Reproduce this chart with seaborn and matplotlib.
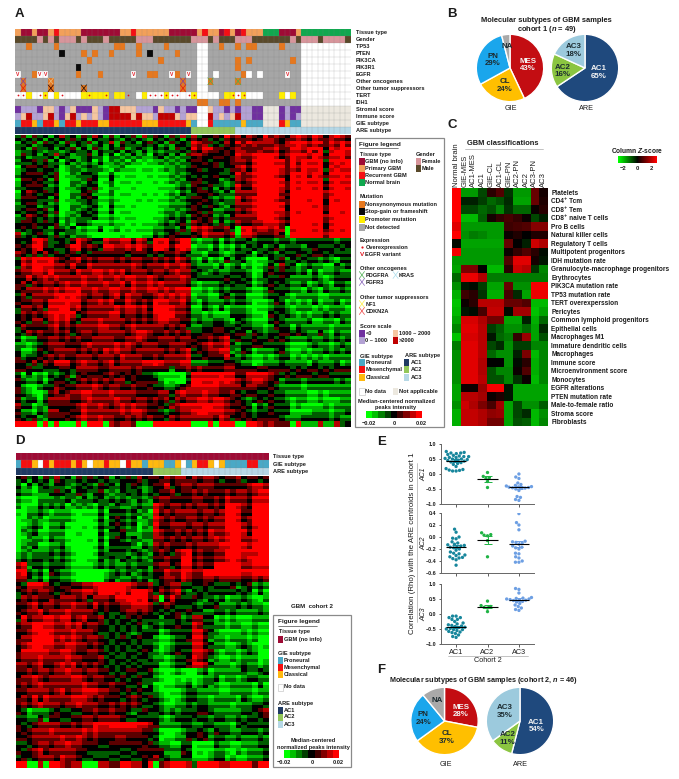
import numpy as np
import pandas as pd
import matplotlib
matplotlib.use("Agg")
import matplotlib.pyplot as plt
from matplotlib.colors import ListedColormap, LinearSegmentedColormap
from matplotlib.patches import Rectangle
import seaborn as sns

W = 679
H = 779

# panel A annotation tracks, one character per sample
A_TRACK_NAMES = ["Tissue type", "Gender", "TP53", "PTEN", "PIK3CA", "PIK3R1", "EGFR", "Other oncogenes",
                 "Other tumor suppressors", "TERT", "IDH1", "Stromal score", "Immune score", "GIE subtype", "ARE subtype"]
A_TISSUE = "PGGPGGPRPPPPGGGGGGGPPRPPPPPPGGGGGPRPPGRPGRPPPNNNGGGPNNNNNNNNN"
A_GENDER = "MMMMFMFMFFFMFMMMFMMMMMFFFMMMMMMMFFFMFMMMFFFMMMMMMMFMFFFMFFFFM"
A_TERT = "wwywwywywwwwyyyyy" ".yy..wyw" "wwywwwwywwww" ".yy" "wy" "www" "..." "ywy." "wwwwwwwww"
A_STROMAL = "abbbaeebabeaaaebaddeeebbbaebbabaa" "wwebbababbaannn" "abaa" "nnnnnnnnn"
A_IMMUNE = "bedbbedbaedbebeba" "dddd" "ed" "ee" "b" "ddd" "e" "b" "ee" "ww" "dbebed" "bb" "aa" "nnn" "abab" "nnnnnnnnn"
A_GIE = "pmmlpmmlpmmlmmmll" "mmmmmm" "lll" "mmmmm" "l" "p" "ww" "m" "ppppp" "l" "ppp" "nnn" "mlpp" "nnnnnnnnn"
A_ARE = "1" * 32 + "2" * 8 + "3" * 21

# mutated samples per gene, column numbers
A_NO_DATA = [33, 34, 52, 53, 54, 55, 56, 57, 58, 59, 60]
A_TP53_NONSYN = [2, 7, 18, 19, 22, 27, 37, 40, 42, 43, 48]
A_PTEN_NONSYN = [12, 14, 17, 22, 29]
A_PTEN_STOP = [8, 24]
A_PIK3CA_NONSYN = [13, 26, 40, 42, 50]
A_PIK3R1_NONSYN = [40]
A_PIK3R1_STOP = [11]
A_EGFR_NONSYN = [3, 11, 15, 24, 25, 29, 41]
A_EGFR_V = [0, 4, 5, 21, 28, 31, 49]
A_EGFR_BLANK = [36, 42, 44]
A_ONCO_CROSS = [1, 6, 30, 35, 40]
A_SUPP_CROSS = [1, 6, 12, 30]
A_IDH1_NONSYN = [33, 34, 37, 38, 40]
A_TERT_OVER = [0, 1, 4, 5, 8, 13, 16, 20, 24, 25, 26, 27, 28, 29, 31, 32, 39, 40, 41]

# main heatmap of panel A, levels 0 (green) .. 4 (black) .. 8 (red), groups AC1 | AC2 | AC3
A_HEAT = """
35253424 63425364 25243526 35425363 63445475 64654756 54676576 46765
24352534 25343524 36253424 53425343 76553464 75766665 46787677 57686
34253342 43524253 24352343 24342534 75775545 65555667 55786878 47687
25342436 34233524 24132423 14342425 66544454 76678887 56877687 48786
24453524 13423413 13231312 12232324 55434445 66578888 75868778 37878
14554534 02323432 12231101 11122323 54445344 67578888 75768778 47687
24555435 01324431 13101100 10112323 44444334 75678887 65878687 47787
15545425 00223541 14011010 01012324 45444234 65678888 74878778 37877
24555423 01323441 03100100 00111232 54453323 75578888 75878878 57887
14654534 00224531 13011001 01012132 45543242 66668888 64888888 67888
25554424 01324541 12100010 10112323 55432322 75678887 64888788 58788
24553423 00223431 03110100 00112223 45443233 66678888 75888878 48888
34554524 01323431 13011000 00122323 54442233 65678887 74878888 58878
24654523 12324431 12101100 01123232 54542324 66668887 65888888 67888
35543534 13233211 12110101 11232342 65452423 65566777 65888878 57888
45453425 32412113 01201011 12233242 76765564 07867767 50788878 47878
62345324 23322100 00010001 13234533 45766656 17765556 41888888 68888
44478634 43586544 76677576 48785688 21223132 33423332 33233333 33233
54578534 45785654 77667686 58875787 12213121 32434234 23332443 33434
65464645 34534355 55554555 45455654 22133212 33413432 43344344 34333
37687786 54675656 66565665 56565765 21312142 43101143 52434332 32133
47688776 65755766 66666765 66676676 32221312 31201242 63412322 11423
56677686 66576677 67675666 56656766 34323223 33201343 53323131 22322
55756767 66667667 66767766 76566676 43333343 34312433 54222232 12333
46465665 67667666 76675766 76766665 21222343 44312343 43223123 21332
54666767 67786676 67766766 77676777 11212323 33211243 33221321 32232
36466667 87876566 56757665 56767676 12211342 33111233 42122221 12222
45566577 78775667 67557656 58776675 21322232 33201124 31212131 22312
46656477 88675666 66767767 58887665 11321312 22101123 32122212 12221
36565678 78745666 67756656 57888665 22121113 33211043 43212122 32322
45466467 67546667 66665656 56776655 23223321 43211134 32222311 22132
46555567 56566667 76656766 66656564 22334433 43322124 33132222 21222
34656556 56456656 66665677 65565656 33445543 44243233 44343224 21322
31225566 56565566 66556676 55666566 45565674 43343343 43222322 32323
22123566 65556766 66767656 66556665 45676674 23344333 32111232 21232
31125456 66656565 76766566 66656567 34566773 24312223 42112122 32323
42334565 65566656 66576665 56566667 33455574 23211212 33121212 12222
55464657 77567665 67566667 78766677 22233344 32201222 32222132 22312
44533444 55466665 56666565 55553556 56555566 44445544 44343443 43444
31412132 34345444 56545453 32111103 77777877 55777765 34344434 43333
53223134 43456565 65664544 44201003 88778787 65677654 23332333 33232
42102335 45566676 56655655 43322345 77777666 64665543 22221222 22222
53210256 45667766 67666655 55664676 66766556 43443343 32222112 12222
52331366 66556766 66766566 56564656 67767765 43234343 32122112 11122
63312355 55567667 65676766 55435677 77887765 54313243 33121111 21222
42213266 44557666 66676776 55323566 78877766 54323343 33111122 21223
43442355 54567667 66556565 65546566 66665764 45434444 32223333 32322
77770708 00070778 06566500 07777877 00070777 00776565 55172226 22634
"""
# the thin rows that sit between the rows above
A_HEAT_THIN = """
43434243 43534243 34324343 24343424 54534354 55545665 45565465 56554
33423443 34243234 24243334 34232443 65634354 56565556 56676565 56575
23343233 23433424 33424324 23233343 54655454 66556556 45665757 36776
34233342 43223433 13323232 23423233 45445545 65567776 45766576 56675
33343433 24232324 22323221 22323233 44545345 55467776 65757667 46767
23443443 12332333 21322212 21232334 45344435 56467777 65657667 36766
34444345 12233342 24212211 21223234 34345443 65567776 54767576 56676
24454334 11332431 23122121 12123233 55344323 54567777 65767667 46766
33444334 12234352 12211211 11222343 45342434 64467777 65767767 46776
24543445 11335422 23122112 12123243 34454333 55557777 55777777 56777
34443335 12233432 23211121 21223234 44543433 64567776 55777677 47677
33442334 11332342 14221211 11223334 54354324 55567777 64777767 57777
43443435 12234342 24122111 11233234 45353344 54567776 65767777 47767
33543434 23233342 23212211 12234343 45453435 55557776 54777777 56777
44454445 23144322 23221212 22343453 54543534 54455666 54777767 46777
34344334 43323224 12312122 23344353 65654453 16756656 61677767 56767
53434435 34233211 11121112 24345444 54655545 26654445 52777777 57777
43467533 43475433 65566465 37674577 32334243 44334443 44344444 44344
45467443 34674543 66556575 47764676 23324232 43343345 34443354 44343
54353534 45445444 44443444 34344543 33244323 44324343 34453455 43444
46576675 45564545 55454554 45454654 32423253 34212234 43343443 43244
36577665 54644655 55555654 55565565 43332423 42312353 54323433 22334
45566575 55465566 56564555 45545655 43234334 44312454 44434242 33433
44645656 55556556 55656655 65455565 34444454 43423344 43333343 23444
55354554 56556555 65564655 65655554 32333434 33423454 34334234 32443
45555656 56675565 56655655 66565666 22323434 44322354 44332432 43343
45355556 76765455 45646554 45656565 23322453 44222344 33233332 23333
54455466 67664556 56446545 47665564 32433343 44312235 42323242 33423
35545366 77564555 55656656 47776554 22432423 33212234 43233323 23332
45454567 67634555 56645545 46777554 33232224 44322154 34323233 43433
54355356 56435556 55554545 45665544 34334432 34322245 43333422 33243
35444456 45455556 65545655 55545453 33445544 34433235 44243333 32333
43545445 45345545 55554566 54454545 44554454 55354344 55454335 32433
42334455 45454455 55445565 44555455 54454563 54454454 54333433 43434
33234455 54445655 55656545 55445554 54565563 34455444 43222343 32343
42234345 55545454 65655455 55545456 45455662 35423334 53223233 43434
53445454 54455545 55465554 45455556 44544463 34322323 44232323 23333
44353546 66456554 56455556 67655566 33344455 43312333 43333243 33423
55444333 44355554 45555454 44442445 45444455 55554455 55454554 54555
42323243 45254555 45454544 43222214 66666766 44666654 45455545 54444
44334245 54345454 54553455 55312114 77667676 54566545 34443444 44343
53213446 54455565 45544544 54433456 66666555 55554454 33332333 33333
44321345 56556655 56555544 44553565 55655445 54554454 43333223 23333
43442455 55445655 55655455 45453545 56656654 54345454 43233223 22233
54423244 44456556 54565655 44546566 66776654 45424354 44232222 32333
53324355 55446555 55565665 44434455 67766655 45434454 44222233 32334
54353244 45456556 55445454 54435455 55554653 54545555 43334444 43433
77770708 00070778 06566500 07777877 00070777 00776565 55172226 22634
"""

# panel D tracks and heatmap, AC1 | AC2 | AC3
D_TRACK_NAMES = ["Tissue type", "GIE subtype", "ARE subtype"]
D_TISSUE = "G" * 46
D_GIE = "pmmlwmlmmmlmlwllmllwmllplllpplwplmmlwlppppmmpp"
D_ARE = "1" * 25 + "2" * 5 + "3" * 16
D_HEAT = """
45342536 34253534 52435364 5 54656 64656654 55645545
31424324 43234325 34243543 4 55745 66566655 55556776
32213335 34244335 23243342 3 45564 55656555 65665677
21102223 23324234 23232332 3 56655 55665565 76665777
20113232 31323213 32433232 2 76566 56566565 88765888
10223212 22101113 14443423 1 75656 66656656 88755888
01323122 22100013 14543413 2 76565 56656566 88756888
01232022 31001013 24543402 3 75566 65665666 88865788
03231122 20010003 14453312 2 76556 56565766 78875888
01322132 21000103 13543423 3 66565 65665676 78866788
02331122 31000013 14444313 2 65655 56566667 78876888
12322232 32100013 24443432 3 56546 78565566 88877788
23233332 32100113 34334232 3 55655 88565566 78767888
67333233 32111123 23223233 3 56645 77565588 88866777
78323143 22100000 12323323 2 55766 87668888 88877888
66423133 22100000 23322323 3 45665 76556656 66655656
43777643 44556678 88887655 6 34566 33445433 34345232
45656654 45667768 88786888 6 46567 32434333 33434131
36565554 66656466 65778878 5 60575 33543323 12232102
55675665 66766575 65566777 6 35654 44323342 22323221
45667566 67666654 54456656 5 43434 45442233 23222232
47566776 77567556 43435454 4 42445 23664412 12111222
56688776 67675665 34343453 4 32334 33764422 12211211
55678876 66766654 43434343 3 31233 33775421 11121211
46688886 76765665 34353454 4 21123 34775322 12221200
56788776 67766565 43434343 3 20123 33775422 11232101
47777766 77655665 34343345 4 21234 33776521 22123200
56667666 67665556 34334344 3 22123 34765321 12122201
66567556 76756565 43434343 3 31123 34776422 21232212
55656656 67665665 54345544 5 21012 10023122 22243343
46676566 66776566 55454354 4 21001 01012231 22123322
56567666 66667665 56554453 3 10112 23123321 12222131
55666656 75667776 65545454 4 21011 23322221 12222122
46575766 66777656 55545654 5 32101 23322122 22132112
56567666 56676665 56565654 4 32112 23233222 21222334
43122234 33445565 56554335 4 43232 33344322 22233456
33224355 44556656 66654433 3 32123 33433233 22323345
43456666 55656687 78888877 6 42222 33223322 21343333
54566676 66667676 66666665 5 31001 23343243 32233323
44566666 76676565 55665555 4 30112 24454233 22322232
33456656 67665554 45555554 5 32211 33011132 21122233
43567566 66655444 44433455 5 55333 43010122 10212223
34456665 76654433 34433445 4 64322 44111233 12112223
77006177 65660006 65577664 7 05677 76377776 67878577
"""
D_HEAT_THIN = """
34243425 43343443 43344453 4 45545 55545543 44534434
42313433 32343434 43343432 3 44634 55455544 44445665
43322244 43353244 32334343 4 34453 44545444 54554566
32213333 34233343 34343243 2 45544 44554454 65554666
31224343 42232324 23322343 3 65455 45455454 77654777
21334323 33212224 23332332 2 64545 55545545 77644777
12232233 33211124 23432322 3 65454 45545455 77645777
12343133 42112124 33432313 2 64455 54554555 77754677
12342233 31121114 23342223 3 65445 45454655 67764777
12233243 32111214 24432332 2 55454 54554565 67755677
13242233 42111124 23333224 3 54544 45455556 67765777
23233343 43211124 33332343 2 45435 67454455 77766677
34344343 43211224 23243343 2 44544 77454455 67656777
56244344 43222234 34334344 2 45534 66454477 77755666
67434254 33211111 23434234 3 44655 76557777 77766777
55334244 33211111 34233434 2 34554 65445545 55544545
54666554 55445567 77776544 5 45455 44334344 45234343
34545543 54556657 77675777 5 35456 43343444 44343242
45454465 55545355 54667767 4 51464 44432434 23343213
44564554 55655464 54455666 5 44543 33434453 33434332
54556455 56555543 43345545 4 34345 34333344 34333343
36455665 66456445 34344343 3 33334 34553323 23222333
45577665 56564554 43434342 3 43445 44653333 23322322
44567765 55655543 34343234 4 42344 44664332 22232322
55577775 65654554 43444343 3 32234 45664233 23332311
45677665 56655454 34343434 4 31234 44664333 22343212
56666655 66544554 43434434 3 32345 44665432 33234311
45556555 56554445 43443433 4 33234 45654232 23233312
55456445 65645454 34343434 4 42234 45665333 32343323
44545545 56554554 43434433 4 32123 21134233 33332234
55565455 55665455 44343443 3 32112 12123342 33234433
45456555 55556554 45443342 4 21223 34234232 23333242
44555545 64556665 54434343 3 32122 34433332 23333233
55464655 55666545 44434543 4 43212 34433233 33243223
45456555 45565554 45454543 3 43223 34344333 32333443
54233345 44334454 45443244 3 34343 44455433 33344345
44335244 33445545 55543344 4 43234 44344344 33434434
54345555 44545576 67777766 5 53333 44334433 32434444
45455565 55556565 55555554 4 42112 34454354 43344434
55455555 65565454 44554444 3 41223 35345344 33433343
44345545 56554443 34444445 4 43322 44122243 32233344
54456455 55544333 33344344 4 44222 54121233 21323334
45345554 65543344 43344334 5 53433 33222344 23223334
77006177 65660006 65577664 7 05677 76377776 67878577
"""

# panel C
C_COLS = ["Normal brain", "GIE-MES", "AC1-MES", "AC1", "GIE-CL", "AC1-CL", "GIE-PN", "AC2-PN", "AC2", "AC3-PN", "AC3"]
C_ROWS = ["Platelets", "CD4\u207a Tcm", "CD8\u207a Tem", "CD8\u207a naive T cells", "Pro B cells", "Natural killer cells",
          "Regulatory T cells", "Multipotent progenitors", "IDH mutation rate", "Granulocyte-macrophage progenitors",
          "Erythrocytes", "PIK3CA mutation rate", "TP53 mutation rate", "TERT overexperssion", "Pericytes",
          "Common lymphoid progenitors", "Epithelial cells", "Macrophages M1", "Immature dendritic cells", "Macrophages",
          "Immune score", "Microenvironment score", "Monocytes", "EGFR alterations", "PTEN mutation rate",
          "Male-to-female ratio", "Stroma score", "Fibroblasts"]
C_VALUES = [
    [2.5, -1.5, -1.5, -0.7, 0.4, 0.8, -0.5, -1.5, -1.5, 1.0, 0.2],
    [2.5, -0.3, -0.3, -0.6, -1.0, -0.8, -0.4, -1.6, -1.6, 1.0, 0.3],
    [2.5, -0.7, -0.7, -1.0, -0.8, -1.3, -0.5, -1.0, -1.0, 0.1, 0.4],
    [2.5, -1.8, -1.8, -0.9, 0.2, 0.5, 0.7, 0.5, 0.1, -0.7, -0.3],
    [2.2, -1.5, -1.5, -1.5, -1.5, -1.5, 0.6, 0.7, 0.8, 1.3, 1.3],
    [2.5, -1.4, -1.2, -1.3, -1.5, -1.5, 0.1, 0.3, 0.0, 0.3, 0.3],
    [-0.1, -1.6, -1.6, -1.6, -1.6, -1.6, 1.0, 0.0, -0.3, 2.0, 1.7],
    [2.4, -1.5, -1.5, -1.5, -1.5, -1.5, 0.1, 0.5, 0.8, 0.4, -0.1],
    [-1.5, -1.5, -1.5, -1.5, -1.5, -1.5, 0.8, 2.2, 2.2, 0.2, -0.2],
    [-1.6, 1.2, 1.2, 0.0, -1.8, -1.8, 0.4, 2.0, 1.8, -0.5, -1.3],
    [-1.0, 2.3, 2.3, 1.7, -1.2, -1.2, -1.2, -1.2, -1.2, -1.2, -1.2],
    [-1.4, -0.2, -0.1, -0.6, -1.6, -1.6, 1.0, -1.4, -1.4, 2.4, 2.4],
    [-1.7, 0.6, 0.4, -0.5, -1.7, -1.7, 0.7, -0.4, -1.6, 2.3, 2.3],
    [-1.9, 0.1, 0.4, 1.8, 1.8, 1.8, 1.0, 1.0, 0.8, -1.8, -1.8],
    [-1.8, -0.2, -0.1, 0.7, 1.9, 1.9, -0.1, 1.6, 1.6, -1.9, -1.6],
    [-1.6, 2.1, 2.1, 1.7, 1.1, 1.1, -1.6, -1.6, -0.3, -1.7, -1.0],
    [-1.3, 2.2, 2.2, 1.8, -0.6, -0.9, -1.4, -1.4, -1.0, -1.6, -0.4],
    [-1.9, 2.1, 2.1, 1.8, -0.2, -1.0, -1.2, 0.5, 1.5, -1.6, -0.8],
    [-1.2, 2.2, 2.2, 1.8, -0.7, -0.4, -1.4, -0.6, -0.6, -1.3, -1.3],
    [-1.4, 2.2, 2.2, 1.8, -1.0, -1.4, -1.4, -0.3, 1.2, -1.8, -1.3],
    [-1.4, 2.2, 2.2, 1.7, 0.0, 0.0, -1.4, -0.1, 0.4, -1.7, -1.3],
    [-1.4, 2.2, 2.2, 1.7, -0.8, -1.3, -1.3, 0.1, 0.8, -1.7, -1.3],
    [-1.4, 2.2, 2.2, 1.8, -0.8, -0.8, -1.3, -0.5, 0.1, -1.8, -1.3],
    [-1.6, 0.1, 0.1, 1.5, 2.4, 2.4, -0.2, -1.6, -1.6, -1.6, -1.6],
    [-1.6, 1.8, 1.8, 1.6, 0.1, 0.3, -0.2, -1.6, -1.6, -1.6, -1.6],
    [-1.4, 2.0, 1.7, 1.2, 0.7, 1.6, -1.6, -0.7, -1.4, -1.4, -0.9],
    [-1.7, 1.9, 1.9, 1.7, 1.4, 1.5, -1.6, -0.7, -0.4, -1.8, -1.4],
    [-1.7, 1.9, 1.9, 1.7, 1.1, 1.1, -1.6, -0.8, -0.9, -1.8, -1.3],
]

# pies
GIE_LABELS = ["MES", "CL", "PN", "NA"]
ARE_LABELS = ["AC1", "AC2", "AC3"]
B_GIE = [43, 24, 29, 4]
B_ARE = [65, 16, 18]
F_GIE = [28, 37, 24, 11]
F_ARE = [54, 11, 35]
GIE_COLORS = ["#c30d12", "#ffbf00", "#1aa6ec", "#a9a9a9"]
ARE_COLORS = ["#1f497d", "#8bc541", "#9ccadd"]

# panel E, correlation per sample
E_GROUPS = ["AC1", "AC2", "AC3"]
E_COLORS = ["#17869c", "#1fb344", "#6d9fe3"]
E_AC1_AC1 = [.75, .72, .7, .7, .68, .65, .62, .6, .58, .58, .55, .55, .52, .5, .5, .48, .46, .45, .43, .42, .4, .38, .35, .32, .25, .18, .15, .13, .12, .1, .1]
E_AC1_AC2 = [.05, -.08, -.12, -.15, -.25, -.45]
E_AC1_AC3 = [0, -.1, -.15, -.3, -.35, -.38, -.4, -.42, -.43, -.44, -.45, -.46, -.47, -.48, -.5, -.55, -.75, -.78, -.85, -.88]
E_AC2_AC1 = [.13, .08, 0, -.02, -.03, -.08, -.1, -.12, -.13, -.14, -.15, -.16, -.17, -.18, -.2, -.22, -.25, -.27, -.28, -.3, -.31, -.33, -.34, -.35, -.36, -.38, -.47]
E_AC2_AC2 = [.07, .04, .03, .02, -.06, -.33]
E_AC2_AC3 = [.39, .24, .2, .12, -.07, -.08, -.09, -.1, -.12, -.15, -.17, -.18, -.2, -.27, -.28, -.33, -.35, -.4, -.42, -.42]
E_AC3_AC1 = [-.07, -.07, -.12, -.12, -.18, -.18, -.25, -.3, -.33, -.36, -.38, -.4, -.42, -.44, -.45, -.48, -.5, -.52, -.52, -.55, -.58, -.6, -.62, -.65, -.7, -.75, -.78]
E_AC3_AC2 = [.43, .28, .25, .22, .2, .08]
E_AC3_AC3 = [.85, .82, .7, .55, .53, .52, .5, .5, .48, .47, .46, .45, .42, .4, .35, .3, .25, .2, .15, .12]
E_AC1_MEAN = [.45, -.17, -.44]
E_AC2_MEAN = [-.16, -.05, -.12]
E_AC3_MEAN = [-.43, .25, .48]
E_AC1_ERR = [.04, .09, .05]
E_AC2_ERR = [.03, .06, .05]
E_AC3_ERR = [.04, .05, .05]

TRACK_COLORS = {
    "G": "#9e0b35", "P": "#f2a05a", "R": "#f50f14", "N": "#10a84f",
    "F": "#d8959b", "M": "#59492a",
    ".": "#a6a6a6", "w": "#ffffff", "o": "#e6781e", "k": "#0a0a0a", "y": "#ffee00",
    "a": "#7030a0", "b": "#b3a2d4", "e": "#f6c6a0", "d": "#c00000", "n": "#ece8df",
    "p": "#4aa9c6", "m": "#f60f0f", "l": "#ffb90f",
    "1": "#1f3a63", "2": "#92c75a", "3": "#b6d8e6",
}
TRACK_KEYS = list(TRACK_COLORS)
TRACK_CMAP = ListedColormap([TRACK_COLORS[k] for k in TRACK_KEYS])
GRN_RED = LinearSegmentedColormap.from_list("grnred", ["#00ff00", "#000000", "#ff0000"])
TEXT = "#1c1c1c"

sns.set_theme(style="white")
plt.rcParams["font.family"] = ["Liberation Sans", "DejaVu Sans"]
plt.rcParams["mathtext.fontset"] = "custom"
plt.rcParams["mathtext.rm"] = "Liberation Sans:bold"
plt.rcParams["mathtext.it"] = "Liberation Sans:italic:bold"
plt.rcParams["mathtext.bf"] = "Liberation Sans:bold"

fig = plt.figure(figsize=(W / 100, H / 100), dpi=100, facecolor="white")


def px_axes(x0, y0, x1, y1):
    return fig.add_axes([x0 / W, 1 - y1 / H, (x1 - x0) / W, (y1 - y0) / H])


def parse_heat(block, thin):
    rows = []
    for a, b in zip(block.strip().splitlines(), thin.strip().splitlines()):
        rows.append([int(c) for c in a.replace(" ", "")])
        rows.append([int(c) for c in b.replace(" ", "")])
    return (np.array(rows) - 4) * 0.005


def mut_track(**marks):
    t = ["."] * 61
    for c in A_NO_DATA:
        t[c] = "w"
    for key, cols in marks.items():
        for c in cols:
            t[c] = key
    return "".join(t)


def draw_tracks(tracks, x0, y0, x1, y1):
    ax = px_axes(x0, y0, x1, y1)
    codes = np.array([[TRACK_KEYS.index(c) for c in t] for t in tracks])
    sns.heatmap(codes, cmap=TRACK_CMAP, vmin=-0.5, vmax=len(TRACK_KEYS) - 0.5, cbar=False,
                xticklabels=False, yticklabels=False, ax=ax)
    ax.hlines(range(1, codes.shape[0]), 0, codes.shape[1], color="#808080", lw=0.3, alpha=0.45)
    ax.vlines(range(1, codes.shape[1]), 0, codes.shape[0], color="#808080", lw=0.3, alpha=0.45)
    return ax


def draw_heat(block, thin, x0, y0, x1, y1):
    ax = px_axes(x0, y0, x1, y1)
    # colours saturate a little before the end of the legend scale
    sns.heatmap(parse_heat(block, thin), cmap=GRN_RED, vmin=-0.014, vmax=0.014, cbar=False,
                xticklabels=False, yticklabels=False, ax=ax)


def draw_pie(x, y, values, labels, colors, spots, light):
    r = 33.7
    ax = px_axes(x - r, y - r, x + r, y + r)
    ax.pie(values, colors=colors, startangle=90, counterclock=False, radius=1)
    ax.set_xlim(-1, 1)
    ax.set_ylim(-1, 1)
    for lab, val, spot in zip(labels, values, spots):
        txt = lab if lab == "NA" else lab + "\n" + str(val) + "%"
        col = "#f4f4f4" if lab in light else "#1c2b30"
        ax.text(spot[0], spot[1], txt, color=col, fontsize=5.7, fontweight="bold", ha="center", va="center", linespacing=1.15)


def draw_swarm(y0, y1, values, means, errs, ylim, ticks, ticklabels):
    ax = px_axes(441, y0, 534, y1)
    df = pd.DataFrame({
        "group": [g for g, v in zip(E_GROUPS, values) for _ in v],
        "rho": [x for v in values for x in v],
    })
    sns.swarmplot(data=df, x="group", y="rho", hue="group", order=E_GROUPS, hue_order=E_GROUPS, palette=E_COLORS,
                  size=2.4, legend=False, ax=ax)
    for i in range(3):
        ax.errorbar(i, means[i], yerr=errs[i], color=E_COLORS[i], capsize=3, lw=0.7, capthick=0.7)
        ax.hlines(means[i], i - 0.33, i + 0.33, color="black", lw=0.8, zorder=5)
    ax.set_xlim(-0.48, 2.48)
    ax.set_ylim(ylim)
    ax.set_yticks(ticks)
    ax.set_yticklabels(ticklabels, fontsize=3.9, fontweight="bold", color=TEXT)
    ax.set_xlabel("")
    ax.set_ylabel("")
    ax.set_xticklabels([])
    ax.tick_params(axis="both", length=1.8, width=0.6, pad=1.5, color="#444444", left=True, bottom=True)
    sns.despine(ax=ax)
    for s in ["left", "bottom"]:
        ax.spines[s].set_color("#666666")
        ax.spines[s].set_linewidth(0.7)
    return ax


# panel A
a_tracks = [A_TISSUE, A_GENDER,
            mut_track(o=A_TP53_NONSYN),
            mut_track(o=A_PTEN_NONSYN, k=A_PTEN_STOP),
            mut_track(o=A_PIK3CA_NONSYN),
            mut_track(o=A_PIK3R1_NONSYN, k=A_PIK3R1_STOP),
            mut_track(o=A_EGFR_NONSYN, w=A_EGFR_V + A_EGFR_BLANK),
            mut_track(o=A_ONCO_CROSS),
            mut_track(o=A_SUPP_CROSS),
            A_TERT,
            mut_track(o=A_IDH1_NONSYN),
            A_STROMAL, A_IMMUNE, A_GIE, A_ARE]
ax_a = draw_tracks(a_tracks, 15, 29, 351, 133.5)
ax_a.scatter([c + 0.5 for c in A_TERT_OVER], [9.5] * len(A_TERT_OVER), s=1.6, color="#e0101a", linewidths=0)
for c in A_EGFR_V:
    ax_a.text(c + 0.5, 6.5, "V", color="#e0101a", fontsize=3.6, ha="center", va="center", fontweight="bold")
for c, col in zip(A_ONCO_CROSS, ["#7a3fa0", "#e8c08a", "#7a3fa0", "#4caf50", "#4caf50"]):
    ax_a.plot([c, c + 1], [7, 8], color=col, lw=0.5)
    ax_a.plot([c, c + 1], [8, 7], color=col, lw=0.5)
for c, col in zip(A_SUPP_CROSS, ["#e01515", "#300000", "#111111", "#e01515"]):
    ax_a.plot([c, c + 1], [8, 9], color=col, lw=0.5)
    ax_a.plot([c, c + 1], [9, 8], color=col, lw=0.5)
draw_heat(A_HEAT, A_HEAT_THIN, 15, 135, 351, 427)

# panel D
draw_tracks([D_TISSUE, D_GIE, D_ARE], 15.7, 453, 269, 475)
draw_heat(D_HEAT, D_HEAT_THIN, 15.7, 476, 269, 768)

# panel C
ax_c = px_axes(452, 188, 548, 426)
sns.heatmap(np.array(C_VALUES), cmap=GRN_RED, vmin=-2.5, vmax=2.5, cbar=False, xticklabels=C_COLS,
            yticklabels=C_ROWS, ax=ax_c)
ax_c.xaxis.tick_top()
ax_c.yaxis.tick_right()
ax_c.tick_params(axis="x", rotation=90, length=0, pad=1, labelsize=5.5, labelcolor=TEXT)
ax_c.tick_params(axis="y", rotation=0, length=0, pad=2.5, labelsize=4.7, labelcolor=TEXT)
for t in ax_c.get_yticklabels():
    t.set_fontweight("bold")

ax_cb = px_axes(618, 156, 657, 163)
sns.heatmap(np.linspace(-2.5, 2.5, 40).reshape(1, -1), cmap=GRN_RED, vmin=-2.5, vmax=2.5, cbar=False,
            xticklabels=False, yticklabels=False, ax=ax_cb)

# pies
draw_pie(510, 68, B_GIE, GIE_LABELS, GIE_COLORS, [(.54, .09), (-.15, -.53), (-.52, .24), (-.08, .65)], ["MES"])
draw_pie(585, 68, B_ARE, ARE_LABELS, ARE_COLORS, [(.4, -.14), (-.67, -.09), (-.34, .53)], ["AC1"])
draw_pie(444.5, 721, F_GIE, GIE_LABELS, GIE_COLORS, [(.48, .3), (.08, -.48), (-.63, .07), (-.23, .62)], ["MES"])
draw_pie(520, 721, F_ARE, ARE_LABELS, ARE_COLORS, [(.48, -.15), (-.37, -.52), (-.45, .29)], ["AC1"])

# panel E
draw_swarm(444, 504, [E_AC1_AC1, E_AC1_AC2, E_AC1_AC3], E_AC1_MEAN, E_AC1_ERR, (-1, 1),
           [-1, -.5, 0, .5, 1], ["\u22121.0", "\u22120.5", "0.0", "0.5", "1.0"])
draw_swarm(513, 573, [E_AC2_AC1, E_AC2_AC2, E_AC2_AC3], E_AC2_MEAN, E_AC2_ERR, (-.6, .4),
           [-.6, -.4, -.2, 0, .2, .4], ["\u22120.6", "\u22120.4", "\u22120.2", "0.0", "0.2", "0.4"])
draw_swarm(584, 644, [E_AC3_AC1, E_AC3_AC2, E_AC3_AC3], E_AC3_MEAN, E_AC3_ERR, (-1, 1),
           [-1, -.5, 0, .5, 1], ["\u22121.0", "\u22120.5", "0.0", "0.5", "1.0"])

# everything written in figure pixels goes on one overlay
ov = fig.add_axes([0, 0, 1, 1], zorder=10)
ov.set_xlim(0, W)
ov.set_ylim(H, 0)
ov.axis("off")


def label(x, y, s, size=4.1, bold=True, ha="left", color=TEXT, style="normal", rotation=0):
    ov.text(x, y, s, fontsize=size, fontweight="bold" if bold else "normal", ha=ha, va="center", color=color,
            fontstyle=style, rotation=rotation)


def swatch(x, y, key, w=5.2, h=7):
    ov.add_patch(Rectangle((x, y - h / 2), w, h, facecolor=key, edgecolor="#bbbbbb" if key == "#ffffff" else "none", lw=0.4))


def cross(x, y, col, w=5.2, h=7):
    ov.plot([x, x + w], [y - h / 2, y + h / 2], color=col, lw=0.5)
    ov.plot([x, x + w], [y + h / 2, y - h / 2], color=col, lw=0.5)


def green_red_bar(x0, y0, x1, y1):
    ax = px_axes(x0, y0, x1, y1)
    sns.heatmap(np.linspace(-0.02, 0.02, 9).reshape(1, -1), cmap=GRN_RED, vmin=-0.02, vmax=0.02, cbar=False,
                xticklabels=False, yticklabels=False, ax=ax)


for name, x, y in [("A", 15, 14), ("B", 447.5, 14), ("C", 447.5, 125), ("D", 15.5, 441), ("E", 377, 442), ("F", 377, 670)]:
    label(x, y, name, size=9.5)

for i, name in enumerate(A_TRACK_NAMES):
    label(355.7, 32.2 + i * 7.0, name)
for i, name in enumerate(D_TRACK_NAMES):
    label(273, [456, 464, 471][i], name)

# legend of panel A
ov.add_patch(Rectangle((355, 138), 89, 289, facecolor="none", edgecolor="#8a8a8a", lw=0.9))
label(359, 144, "Figure legend", size=4.6)
ov.plot([359, 398], [148, 148], color=TEXT, lw=0.4)
sx = 359.3
tx = 365.3
label(360, 154, "Tissue type")
for y, key, s in [(161, "G", "GBM (no info)"), (168, "P", "Primary GBM"), (175, "R", "Recurrent GBM"), (182, "N", "Normal brain")]:
    swatch(sx, y, TRACK_COLORS[key])
    label(tx, y, s)
label(416, 154, "Gender")
for y, key, s in [(161, "F", "Female"), (168, "M", "Male")]:
    swatch(415.5, y, TRACK_COLORS[key])
    label(421.7, y, s)
label(360, 196, "Mutation")
for y, key, s in [(204, "o", "Nonsynonymous mutation"), (211, "k", "Stop-gain or frameshift"),
                  (219, "y", "Promoter mutation"), (227, ".", "Not detected")]:
    swatch(sx, y, TRACK_COLORS[key])
    label(tx, y, s)
label(360, 240, "Expression")
ov.scatter([361.8], [247], s=2.5, color="#e0101a", linewidths=0)
label(tx, 247, "Overexpression")
ov.text(361.8, 254, "V", color="#e0101a", fontsize=4.6, ha="center", va="center", fontweight="bold")
label(tx, 254, "EGFR variant")
label(360, 268, "Other oncogenes")
for x, y, col, s in [(sx, 275, "#4caf50", "PDGFRA"), (393, 275, "#a8dcec", "KRAS"), (sx, 282, "#8560b8", "FGFR3")]:
    cross(x, y, col)
    label(x + 6, y, s)
label(360, 297, "Other tumor suppressors")
for y, col, s in [(304, "#ffee44", "NF1"), (311, "#ee4444", "CDKN2A")]:
    cross(sx, y, col)
    label(tx, y, s)
label(360, 326, "Score scale")
for x, y, key, s in [(sx, 333, "a", "<0"), (sx, 340, "b", "0 \u2013 1000"), (393, 333, "e", "1000 \u2013 2000"), (393, 340, "d", ">2000")]:
    swatch(x, y, TRACK_COLORS[key])
    label(x + 6, y, s)
label(360, 356, "GIE subtype")
label(405, 355, "ARE subtype")
for y, key, s in [(362, "p", "Proneural"), (369, "m", "Mesenchymal"), (377, "l", "Classical")]:
    swatch(sx, y, TRACK_COLORS[key])
    label(tx, y, s)
for y, key, s in [(362, "1", "AC1"), (369, "2", "AC2"), (377, "3", "AC3")]:
    swatch(404, y, TRACK_COLORS[key])
    label(411, y, s)
swatch(sx, 391, "#ffffff")
label(tx, 391, "No data")
swatch(393, 391, TRACK_COLORS["n"])
label(399, 391, "Not applicable")
label(396, 401, "Median-centered normalized", ha="center")
label(396, 407, "peaks intensity", ha="center")
green_red_bar(366, 411, 422, 418)
label(369, 423, "\u22120.02", ha="center")
label(394, 423, "0", ha="center")
label(421, 423, "0.02", ha="center")

# legend of panel D
label(312, 607, "GBM  cohort 2", size=4.4, ha="center")
ov.add_patch(Rectangle((273, 615), 78, 152, facecolor="none", edgecolor="#8a8a8a", lw=0.9))
label(278, 622, "Figure legend", size=4.6)
ov.plot([278, 317], [626, 626], color=TEXT, lw=0.4)
label(279, 632, "Tissue type")
swatch(277.5, 639, TRACK_COLORS["G"])
label(284, 639, "GBM (no info)")
label(278, 653, "GIE subtype")
for y, key, s in [(660, "p", "Proneural"), (667, "m", "Mesenchymal"), (674, "l", "Classical")]:
    swatch(277.5, y, TRACK_COLORS[key])
    label(284, y, s)
swatch(277.5, 687, "#ffffff")
label(284, 687, "No data")
label(278, 703, "ARE subtype")
for y, key, s in [(710, "1", "AC1"), (717, "2", "AC2"), (724, "3", "AC3")]:
    swatch(277.5, y, TRACK_COLORS[key])
    label(284, y, s)
label(313, 740, "Median-centered", ha="center")
label(313, 747, "normalized peaks intensity", ha="center")
green_red_bar(284, 750, 339, 758)
label(284, 762, "\u22120.02", ha="center")
label(312, 762, "0", ha="center")
label(338, 762, "0.02", ha="center")

# panel B, C, F texts
label(546, 20, "Molecular subtypes of GBM samples", size=5.4, ha="center")
label(547, 29, "cohort 1 ($\\it{n}$ = 49)", size=5.4, ha="center")
label(511, 108, "GIE", size=5.2, bold=False, ha="center")
label(586, 108, "ARE", size=5.2, bold=False, ha="center")
label(503, 143, "GBM classifications", size=5.4, ha="center")
ov.plot([465, 543], [148.5, 148.5], color="#aaaaaa", lw=0.5)
label(637, 150, "Column $\\it{Z}$-score", size=4.8, ha="center")
label(623, 168, "\u22122", size=4.2, ha="center")
label(637.5, 168, "0", size=4.2, ha="center")
label(651, 168, "2", size=4.2, ha="center")
label(483, 680, "Molecular subtypes of GBM samples (cohort 2, $\\it{n}$ = 46)", size=5.2, ha="center")
label(446, 764, "GIE", size=5.2, bold=False, ha="center")
label(520, 764, "ARE", size=5.2, bold=False, ha="center")

# panel E texts
label(412, 543, "Correlation (Rho) with the ARE centroids in cohort 1", size=5.7, bold=False, ha="center", rotation=90)
ov.plot([417, 417], [463, 622], color="#aaaaaa", lw=0.5)
label(424, 474, "AC1", size=5, bold=False, ha="center", style="italic", rotation=90)
label(424, 543, "AC2", size=5, bold=False, ha="center", style="italic", rotation=90)
label(424, 614, "AC3", size=5, bold=False, ha="center", style="italic", rotation=90)
for x, s in zip([456, 487, 519], E_GROUPS):
    label(x, 652, s, size=5.2, bold=False, ha="center")
ov.plot([448, 528], [656, 656], color="#aaaaaa", lw=0.5)
label(488, 661, "Cohort 2", size=5.2, bold=False, ha="center")

fig.savefig("out.png", dpi=100)
